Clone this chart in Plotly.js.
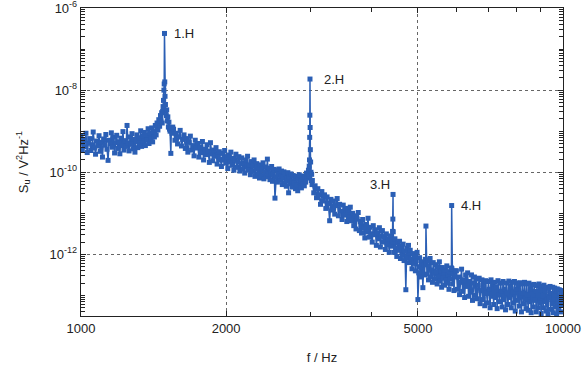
<!DOCTYPE html>
<html><head><meta charset="utf-8">
<script src="https://cdn.plot.ly/plotly-3.0.1.min.js"></script>
<style>html,body{margin:0;padding:0;background:#fff;} #chart{width:583px;height:369px;}</style>
</head><body><div id="chart"></div>
<script>
const freqLow = [1000,1006,1012,1018,1024,1030,1036,1042,1048,1054,1060,1066,1072,1078,1084,1090,1096,1102,1108,1114,1120,1126,1132,1138,1144,1150,1156,1162,1168,1174,1180,1186,1192,1198,1204,1210,1216,1222,1228,1234,1240,1246,1252,1258,1264,1270,1276,1282,1288,1294,1300,1306,1312,1318,1324,1330,1336,1342,1348,1354,1360,1366,1372,1378,1384,1390,1396,1402,1408,1414,1420,1426,1432,1438,1444,1450,1456,1462];
const logPsdLow = [-9.12,-9.45,-9.21,-9.38,-9.05,-9.52,-9.29,-9.18,-9.47,-9.33,-9.02,-9.41,-9.56,-9.24,-9.36,-9.11,-9.49,-9.27,-9.63,-9.19,-9.34,-9.08,-9.44,-9.71,-9.22,-9.31,-9.04,-9.39,-9.15,-9.53,-9.28,-9.10,-9.42,-9.26,-9.55,-9.17,-9.35,-9.01,-9.46,-9.23,-9.37,-8.86,-9.29,-9.48,-9.14,-9.32,-9.06,-9.43,-9.20,-9.51,-9.25,-9.09,-9.40,-9.16,-9.33,-8.99,-9.37,-9.12,-9.28,-9.03,-9.35,-9.10,-9.22,-8.94,-9.30,-9.05,-9.18,-8.92,-9.26,-9.01,-9.14,-8.86,-9.09,-8.80,-8.97,-8.72,-8.88,-8.62];

const freqPeak1 = [1466,1470,1474,1477,1480,1483,1486,1488,1490,1492,1494,1497,1500,1503,1506,1510,1514,1518,1522,1526,1530,1536,1540,1545,1550];
const logPsdPeak1 = [-8.75,-8.55,-8.80,-8.52,-8.40,-8.25,-8.00,-7.85,-6.62,-7.80,-8.15,-8.35,-8.50,-8.62,-8.48,-8.75,-8.65,-8.90,-8.78,-8.95,-9.00,-9.54,-8.92,-9.05,-8.90];

const freqMid = [1556,1566,1576,1586,1596,1606,1616,1626,1636,1646,1656,1666,1676,1686,1696,1706,1716,1726,1736,1746,1756,1766,1776,1786,1796,1806,1816,1826,1836,1846,1856,1866,1876,1886,1896,1906,1916,1926,1936,1946,1956,1966,1976,1986,1996,2006,2016,2026,2036,2046,2056,2066,2076,2086,2096,2106,2116,2126,2136,2146,2156,2166,2176,2186,2196,2206,2216,2226,2236,2246,2256,2266,2276,2286,2296,2306,2316,2326,2336,2346,2356,2366,2376,2386,2396,2406,2416,2426,2436,2446,2456,2466,2476,2486,2496,2506,2516,2526,2536,2546,2556,2566,2576,2586,2596,2606,2616,2626,2636,2646,2656,2666,2676,2686,2696,2706,2716,2726,2736,2746,2756,2766,2776,2786,2796,2806,2816,2826,2836,2846,2856,2866,2876,2886,2896,2906,2916,2926,2936,2946];
const logPsdMid = [-8.95,-9.22,-9.05,-9.31,-9.14,-8.98,-9.36,-9.20,-9.09,-9.42,
 -9.18,-9.51,-9.27,-9.12,-9.46,-9.35,-9.60,-9.22,-9.41,-9.30,
 -9.63,-9.38,-9.52,-9.25,-9.70,-9.44,-9.57,-9.33,-9.49,-9.76,
 -9.28,-9.55,-9.72,-9.46,-9.61,-9.40,-9.80,-9.58,-9.50,-9.69,
 -9.86,-9.54,-9.70,-9.47,-9.78,-9.62,-9.91,-9.58,-9.74,-9.51,
 -9.83,-9.66,-9.95,-9.71,-9.56,-9.88,-9.74,-9.62,-9.97,-9.79,
 -9.65,-9.92,-9.78,-10.02,-9.70,-9.86,-9.61,-9.95,-9.82,-10.06,
 -9.74,-9.98,-9.85,-9.70,-10.10,-9.91,-9.79,-10.04,-9.88,-10.14,
 -9.82,-10.08,-9.93,-9.77,-10.16,-10.00,-9.87,-10.11,-9.68,-10.05,
 -9.90,-10.18,-10.01,-9.86,-10.22,-10.06,-9.93,-10.63,-10.12,-9.95,
 -10.24,-10.03,-9.92,-10.19,-10.08,-9.97,-10.30,-10.12,-9.99,-10.26,
 -10.05,-10.34,-10.15,-10.01,-10.50,-10.11,-10.28,-10.04,-10.22,-10.36,
 -10.08,-10.27,-10.14,-10.40,-10.10,-10.31,-10.45,-10.17,-10.06,-10.35,
 -10.21,-10.38,-10.09,-10.29,-10.15,-10.33,-10.12,-10.24,-10.02,-10.14];

const freqPeak2 = [2956,2964,2970,2975,2979,2982,2984,2986,2988,2991,2995,3000,3005,3010,3015];
const logPsdPeak2 = [-10.05,-9.95,-10.10,-9.85,-9.70,-9.15,-8.61,-7.73,-8.91,-9.45,-9.75,-10.00,-10.20,-10.05,-10.30];

const freqHigh = [3020,3040,3060,3080,3100,3120,3140,3160,3180,3200,3220,3240,3260,3280,3300,3320,3340,3360,3380,3400,3420,3440,3460,3480,3500,3520,3540,3560,3580,3600,3620,3640,3660,3680,3700,3720,3740,3760,3780,3800,3820,3840,3860,3880,3900,3920,3940,3960,3980,4000,4020,4040,4060,4080,4100,4120,4140,4160,4180,4200,4220,4240,4260,4280,4300,4320,4340,4360,4380,4400,4420,4430,4436,4440,4444,4450,4460,4480,4500,4520,4540,4560,4580,4600,4620,4640,4660,4680,4700,4720,4740,4760,4780,4800,4820,4840,4860,4880,4900,4920,4940,4960,4980,5000,5020,5040,5060,5080,5100,5120,5140,5160,5180,5190,5196,5202,5220,5240,5260,5280,5300,5320,5340,5360,5380,5400,5420,5440,5460,5480,5500,5520,5540,5560,5580,5600,5620,5640,5660,5680,5700,5720,5740,5760,5780,5800,5820,5840,5860,5868,5875,5882,5900,5920,5940,5960,5980];
const logPsdHigh = [-10.20,-10.50,-10.33,-10.62,-10.40,-10.55,-10.78,-10.47,-10.70,-10.55,
 -10.88,-10.60,-10.76,-11.18,-10.66,-10.92,-10.70,-11.02,-10.81,-10.64,
 -11.06,-10.78,-10.95,-11.15,-10.80,-11.04,-10.88,-11.20,-10.93,-11.10,
 -10.85,-11.18,-11.00,-11.30,-11.06,-11.38,-11.14,-10.98,-11.42,-11.20,
 -11.48,-11.15,-11.36,-11.60,-11.27,-11.45,-11.12,-11.58,-11.34,-11.50,
 -11.70,-11.30,-11.52,-11.40,-11.78,-11.48,-11.62,-11.35,-11.82,-11.55,
 -11.42,-11.70,-11.58,-11.88,-11.50,-11.76,-11.62,-11.95,-11.55,-11.80,
 -11.66,-11.44,-11.14,-10.54,-11.45,-11.70,
 -11.95,-11.62,-11.85,-12.05,-11.72,-11.90,-11.68,-12.10,
 -11.80,-12.02,-11.75,-12.15,-11.92,-12.86,-11.85,-12.08,-11.78,-12.20,
 -11.90,-12.12,-12.35,-11.98,-12.22,-12.05,-12.40,-12.15,-11.95,-13.10,
 -12.45,-12.08,-12.30,-12.55,-12.18,-12.81,-12.25,-12.50,-12.12,
 -12.25,-11.31,-12.22,
 -12.48,-12.15,-12.62,-12.30,-12.10,-12.55,-12.38,-12.68,-12.20,-12.45,
 -12.60,-12.25,-12.42,-12.72,-12.30,-12.55,-12.18,-12.65,-12.40,-12.80,
 -12.32,-12.58,-12.44,-12.75,-12.38,-12.62,-12.28,-12.70,-12.50,-12.85,-12.42,-12.60,-12.36,
 -12.33,-10.81,-12.35,
 -12.72,-12.48,-12.88,-12.55,-12.40];

const freqTail = [6010,6040,6070,6100,6130,6160,6190,6220,6250,6280,6310,6340,6370,6400,6430,6460,6490,6520,6550,6580,6610,6640,6670,6700,6730,6760,6790,6820,6850,6880,6910,6940,6970,7000,7030,7060,7090,7120,7150,7180,7210,7240,7270,7300,7330,7360,7390,7420,7450,7480,7510,7540,7570,7600,7630,7660,7690,7720,7750,7780,7810,7840,7870,7900,7930,7960,7990,8020,8050,8080,8110,8140,8170,8200,8230,8260,8290,8320,8350,8380,8410,8440,8470,8500,8530,8560,8590,8620,8650,8680,8710,8740,8770,8800,8830,8860,8890,8920,8950,8980,9010,9040,9070,9100,9130,9160,9190,9220,9250,9280,9310,9340,9370,9400,9430,9460,9490,9520,9550,9580,9610,9640,9670,9700,9730,9760,9790,9820,9850,9880,9910,9940,9970,10000];
const logPsdTail = [-12.40,-12.85,-12.55,-12.98,-12.68,-12.36,-12.90,-12.62,-13.05,-12.50,
 -12.78,-12.45,-13.02,-12.66,-12.92,-12.50,-13.12,-12.70,-12.55,-13.00,
 -12.60,-13.08,-12.75,-12.58,-13.20,-12.88,-12.62,-13.10,-12.70,-13.25,
 -12.64,-12.95,-13.18,-12.66,-12.85,-13.30,-12.62,-13.02,-12.72,-13.22,
 -12.68,-13.05,-12.80,-13.32,-12.64,-12.98,-13.15,-12.70,-12.90,-13.28,
 -12.66,-13.10,-12.84,-13.35,-12.70,-12.95,-13.22,-12.65,-13.05,-12.78,
 -13.30,-12.68,-12.92,-13.18,-12.66,-13.38,-12.85,-12.70,-13.12,-12.74,
 -13.26,-12.69,-13.00,-13.40,-12.72,-12.95,-13.20,-12.68,-13.08,-13.32,
 -12.72,-12.98,-13.36,-12.70,-13.15,-12.84,-13.42,-12.74,-13.05,-13.28,
 -12.73,-13.12,-12.90,-13.40,-12.76,-13.00,-13.30,-12.72,-13.18,-12.86,
 -13.44,-12.78,-13.02,-13.30,-12.75,-13.15,-12.88,-13.38,-12.80,-13.10,
 -13.46,-12.82,-13.05,-12.78,-13.34,-12.95,-13.20,-12.80,-13.42,-13.00,
 -12.82,-13.28,-12.90,-13.46,-12.84,-13.12,-13.36,-12.86,-13.05,-13.40,
 -12.88,-13.22,-12.90,-13.15];

// Harmonic labels and the peaks they mark (frequency, log10 S_u)
const harmonicLabels = ['1.H','2.H','3.H','4.H'];
const harmonicFreq = [1490, 2986, 4440, 5875];
const harmonicLogPsd = [-6.62, -7.73, -10.54, -10.81];

// Axis ticks
const xTickVals = [1000, 2000, 5000, 10000];
const xTickText = ['1000', '2000', '5000', '10000'];
const xMinorVals = [3000, 4000, 6000, 7000, 8000, 9000];
const yTickVals = [1e-12, 1e-10, 1e-8, 1e-6];
const yTickText = ['10<sup>-12</sup>', '10<sup>-10</sup>', '10<sup>-8</sup>', '10<sup>-6</sup>'];

const yMinorVals = [];
for (let k = -14; k <= -7; k++) {
  for (let m = 2; m <= 9; m++) yMinorVals.push(m * Math.pow(10, k));
}
for (let k = -13; k <= -7; k++) yMinorVals.push(Math.pow(10, k));

const freq = [].concat(freqLow, freqPeak1, freqMid, freqPeak2, freqHigh, freqTail);
const logPsd = [].concat(logPsdLow, logPsdPeak1, logPsdMid, logPsdPeak2, logPsdHigh, logPsdTail);
const psd = logPsd.map(v => Math.pow(10, v));

const blue = '#2b5fb5';
const trace = {
  x: freq, y: psd, type: 'scatter', mode: 'lines+markers',
  line: {color: blue, width: 1.5},
  marker: {color: blue, size: 5, symbol: 'square'},
  hoverinfo: 'skip'
};

const FONT = 'Liberation Sans, Arial, Helvetica, sans-serif';
const shifts = [{xa:'left', xs:8, ys:0}, {xa:'left', xs:12, ys:0}, {xa:'right', xs:-1, ys:10}, {xa:'left', xs:7, ys:0}];
const annotations = harmonicLabels.map((t, i) => ({
  x: Math.log10(harmonicFreq[i]), y: harmonicLogPsd[i],
  xref: 'x', yref: 'y', text: t, showarrow: false,
  xanchor: shifts[i].xa, yanchor: 'middle', xshift: shifts[i].xs, yshift: shifts[i].ys,
  font: {family: FONT, size: 13, color: '#222'}
}));

const axisCommon = {
  showline: true, linecolor: '#222', linewidth: 1.2, mirror: 'allticks',
  ticks: 'inside', ticklen: 5, tickwidth: 1, tickcolor: '#222',
  showgrid: true, gridcolor: '#666', gridwidth: 1, griddash: '3px,3px',
  zeroline: false, ticklabeloverflow: 'allow',
  tickfont: {family: FONT, size: 13, color: '#222'}
};

const layout = {
  width: 583, height: 369,
  margin: {l: 81, r: 20, t: 8, b: 53},
  paper_bgcolor: '#fff', plot_bgcolor: '#fff',
  showlegend: false,
  font: {family: FONT, size: 13, color: '#222'},
  xaxis: Object.assign({}, axisCommon, {
    type: 'log', range: [3, 4],
    tickmode: 'array', tickvals: xTickVals, ticktext: xTickText,
    minor: {tickmode: 'array', tickvals: xMinorVals, ticks: 'inside', ticklen: 4, tickcolor: '#222', showgrid: false},
    title: {text: 'f / Hz', font: {family: FONT, size: 13, color: '#222'}, standoff: 18}
  }),
  yaxis: Object.assign({}, axisCommon, {
    type: 'log', range: [-13.5, -6],
    tickmode: 'array', tickvals: yTickVals, ticktext: yTickText,
    minor: {tickmode: 'array', tickvals: yMinorVals, ticks: 'inside', ticklen: 4, tickcolor: '#222', showgrid: false},
    title: {text: 'S<sub>u</sub> / V<sup>2</sup>Hz<sup>-1</sup>', font: {family: FONT, size: 13, color: '#222'}, standoff: 18}
  }),
  annotations: annotations
};

Plotly.newPlot('chart', [trace], layout, {displayModeBar: false, staticPlot: true});
</script>
</body></html>
